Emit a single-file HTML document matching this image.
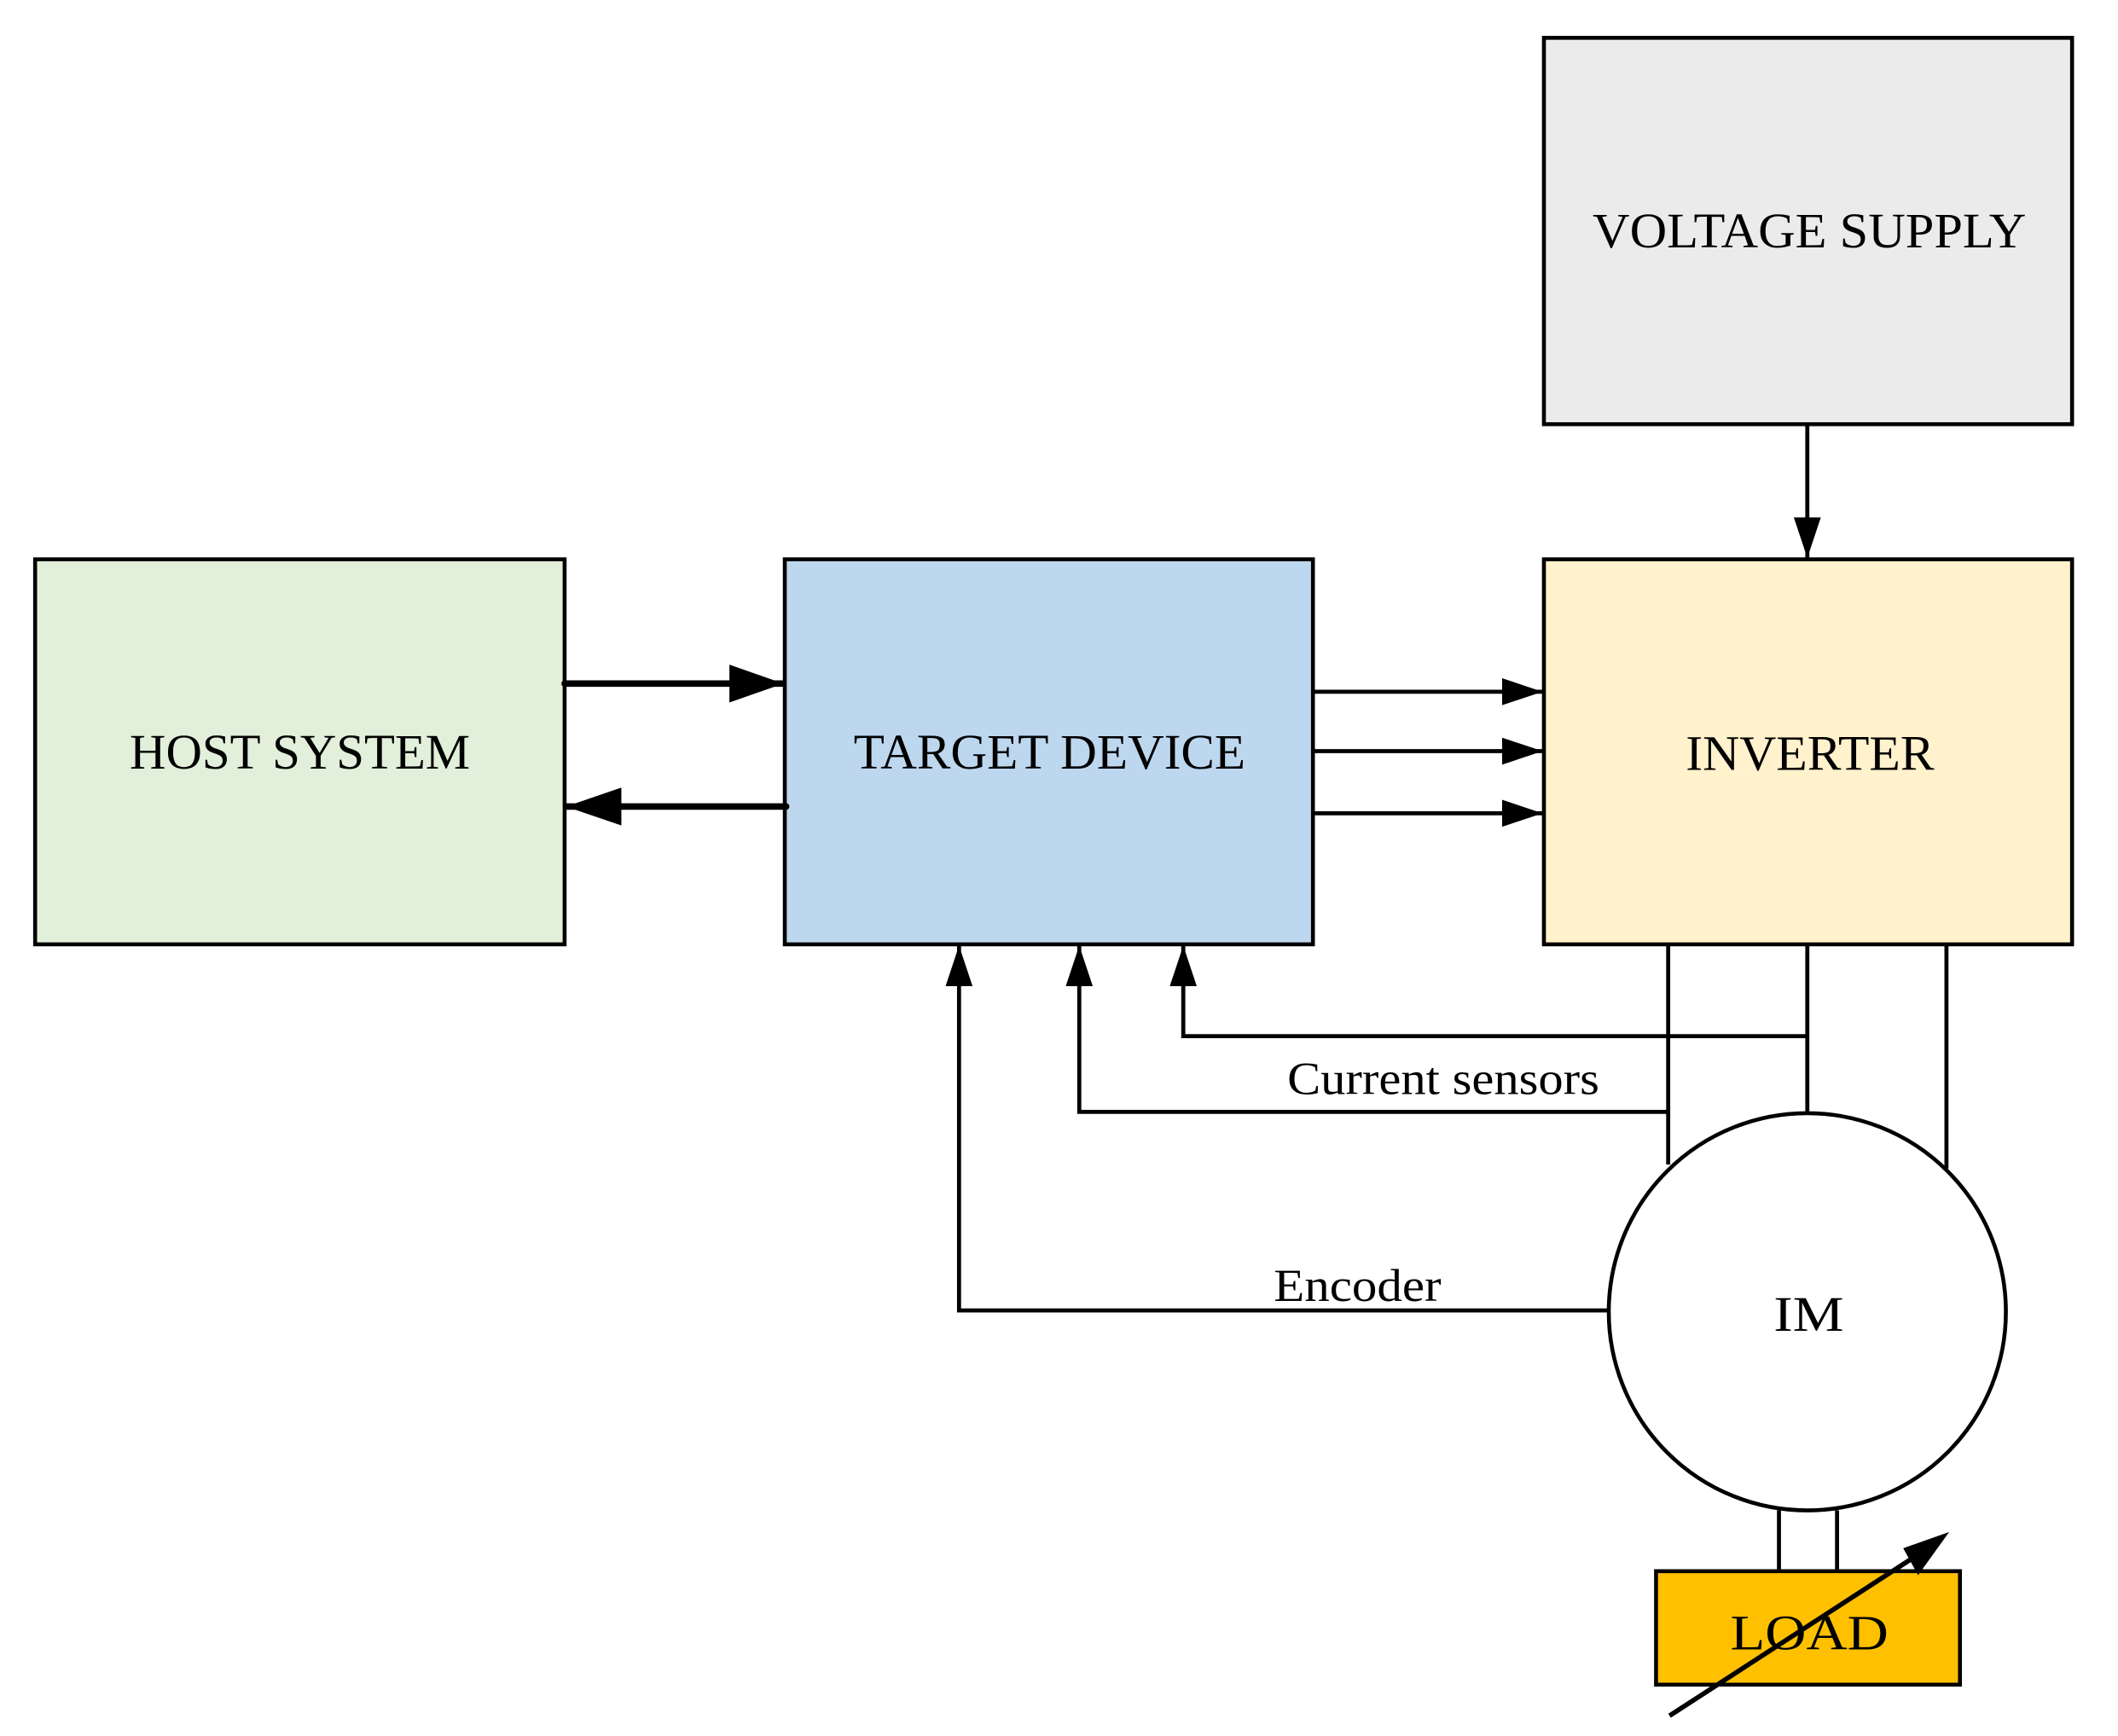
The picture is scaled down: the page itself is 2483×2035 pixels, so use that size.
<!DOCTYPE html>
<html><head><meta charset="utf-8"><style>html,body{margin:0;padding:0;background:#fff}svg{display:block}</style></head>
<body>
<svg width="2483" height="2035" viewBox="0 0 1568 1285" preserveAspectRatio="none" xmlns="http://www.w3.org/2000/svg" font-family="'Liberation Serif', serif" font-size="37">
<defs>
<marker id="b" viewBox="0 0 30 20" refX="30" refY="10" markerWidth="30" markerHeight="20" markerUnits="userSpaceOnUse" orient="auto"><path d="M0,0 L30,10 L0,20 z" fill="#000"/></marker>
</defs>
<g stroke="#000" stroke-width="2.9">
<rect x="1143" y="28" width="391" height="286" fill="#ebebeb"/>
<rect x="26" y="414" width="392" height="285" fill="#e2efda"/>
<rect x="581" y="414" width="391" height="285" fill="#bdd7ee"/>
<rect x="1143" y="414" width="391" height="285" fill="#fff2cc"/>
<circle cx="1338" cy="971" r="147" fill="#fff"/>
<rect x="1226" y="1163" width="225" height="84" fill="#ffc000"/>
</g>
<g stroke="#000" stroke-width="3" fill="none">
<line x1="1338" y1="314" x2="1338" y2="413" marker-end="url(#b)"/>
<line x1="418" y1="506" x2="579" y2="506" stroke-width="4.8" stroke-linecap="round"/>
<path d="M540,492 L580,506 L540,520 z" fill="#000" stroke="none"/>
<line x1="582" y1="597" x2="420" y2="597" stroke-width="4.8" stroke-linecap="round"/>
<path d="M460,583 L419,597 L460,611 z" fill="#000" stroke="none"/>
<line x1="972" y1="512" x2="1142" y2="512" marker-end="url(#b)"/>
<line x1="972" y1="556" x2="1142" y2="556" marker-end="url(#b)"/>
<line x1="972" y1="602" x2="1142" y2="602" marker-end="url(#b)"/>
<line x1="1235" y1="699" x2="1235" y2="862"/>
<line x1="1338" y1="699" x2="1338" y2="824"/>
<line x1="1441" y1="699" x2="1441" y2="865"/>
<polyline points="1338,767 876,767 876,700" marker-end="url(#b)"/>
<polyline points="1235,823 799,823 799,700" marker-end="url(#b)"/>
<polyline points="1192,970 710,970 710,700" marker-end="url(#b)"/>
<line x1="1317" y1="1118" x2="1317" y2="1163"/>
<line x1="1360" y1="1118" x2="1360" y2="1163"/>
<line x1="1236" y1="1270" x2="1418" y2="1152" stroke-width="3.5"/>
<path d="M1443,1134 L1420,1166 L1409,1146 z" fill="#000" stroke="none"/>
</g>
<g fill="#000">
<text x="96" y="569" textLength="252" lengthAdjust="spacingAndGlyphs">HOST SYSTEM</text>
<text x="632" y="569" textLength="290" lengthAdjust="spacingAndGlyphs">TARGET DEVICE</text>
<text x="1248" y="570" textLength="184" lengthAdjust="spacingAndGlyphs">INVERTER</text>
<text x="1179" y="183" textLength="321" lengthAdjust="spacingAndGlyphs">VOLTAGE SUPPLY</text>
<text x="1313" y="985" textLength="52" lengthAdjust="spacingAndGlyphs">IM</text>
<text x="1281" y="1221" textLength="117" lengthAdjust="spacingAndGlyphs">LOAD</text>
<text x="953" y="810" font-size="34" textLength="231" lengthAdjust="spacingAndGlyphs">Current sensors</text>
<text x="943" y="963" font-size="34" textLength="124" lengthAdjust="spacingAndGlyphs">Encoder</text>
</g>
</svg>
</body></html>
